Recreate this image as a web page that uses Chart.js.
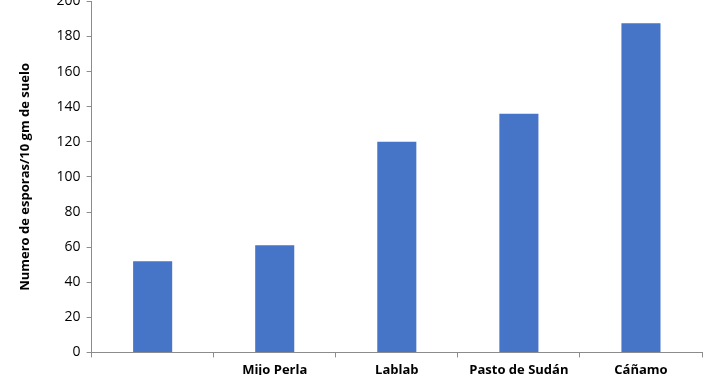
<!DOCTYPE html>
<html>
<head>
<meta charset="utf-8">
<script src="https://cdn.jsdelivr.net/npm/chart.js@4.4.0/dist/chart.umd.min.js"></script>
<style>
html,body{margin:0;padding:0;background:#fff;overflow:hidden;}
#outer{position:relative;width:710px;height:375px;overflow:hidden;}
#wrap{position:absolute;left:0;top:-13px;width:710px;height:396px;}
</style>
</head>
<body>
<div id="outer"><div id="wrap"><canvas id="c"></canvas></div></div>
<script>
const categories = ["", "Mijo Perla", "Lablab", "Pasto de Sudán", "Cáñamo"];
const esporas = [52, 61, 120, 136, 187.5];
const yTitle = "Numero de esporas/10 gm de suelo";

const axisColor = "#8c8c8c";
const fontFam = "'Open Sans', 'Noto Sans', sans-serif";

new Chart(document.getElementById('c'), {
  type: 'bar',
  data: {
    labels: categories,
    datasets: [{
      data: esporas,
      backgroundColor: '#4674C6',
      borderWidth: 0,
      categoryPercentage: 1,
      barPercentage: 0.32
    }]
  },
  options: {
    responsive: true,
    maintainAspectRatio: false,
    animation: false,
    layout: { padding: { top: 0, right: 8, left: 17, bottom: 0 } },
    plugins: { legend: { display: false }, tooltip: { enabled: false } },
    scales: {
      x: {
        grid: { drawOnChartArea: false, color: axisColor, tickLength: 5, offset: true },
        border: { color: axisColor, width: 1 },
        ticks: { color: '#000', padding: 5, font: { family: fontFam, size: 13, weight: 'bold' }, maxRotation: 0 }
      },
      y: {
        min: 0, max: 200,
        grid: { drawOnChartArea: false, color: axisColor, tickLength: 5 },
        border: { color: axisColor, width: 1 },
        ticks: { stepSize: 20, color: '#000', padding: 6, font: { family: fontFam, size: 14 } },
        title: { display: true, text: yTitle, color: '#000', padding: { top: 0, bottom: 18 }, font: { family: fontFam, size: 13, weight: 'bold' } }
      }
    }
  }
});
</script>
</body>
</html>
